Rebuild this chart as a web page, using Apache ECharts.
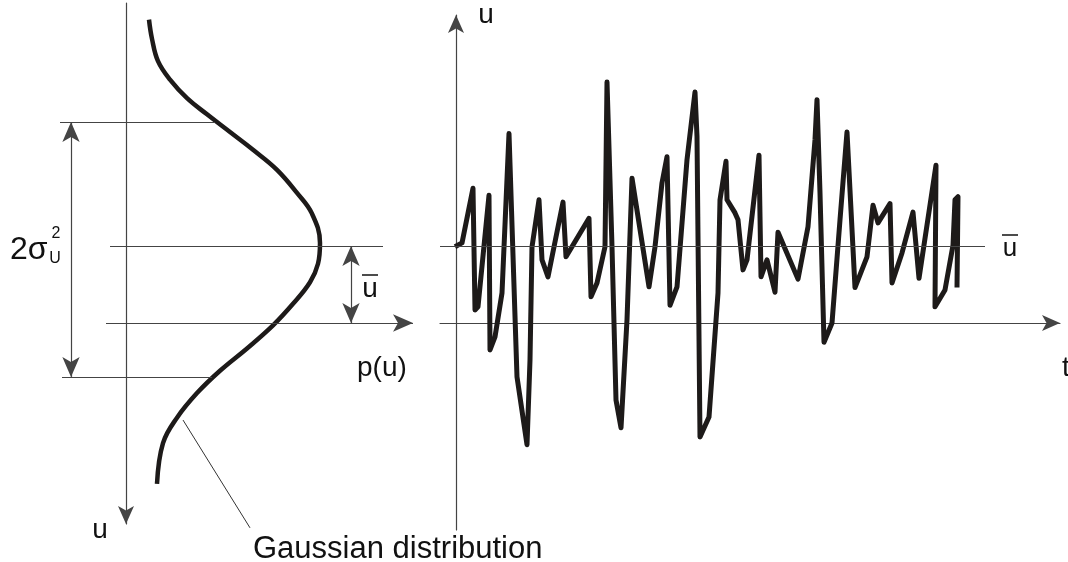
<!DOCTYPE html>
<html>
<head>
<meta charset="utf-8">
<script src="https://cdn.jsdelivr.net/npm/echarts@6/dist/echarts.min.js"></script>
<style>
html, body { margin: 0; padding: 0; background: #fff; }
#chart { width: 1068px; height: 562px; }
</style>
</head>
<body>
<div id="chart"></div>
<script>
// values, u in units of the mean (u = 0 on the p / t axis)
// left panel: the gaussian p(u)
var gaussU = [3.94, 3.69, 3.40, 3.16, 2.92, 2.71, 2.48, 2.25, 1.99, 1.69, 1.42, 1.04, 0.77, 0.53, 0.25, -0.03, -0.33, -0.62, -0.91, -1.23, -1.56, -2.09];
var gaussP = [0.115, 0.13, 0.16, 0.22, 0.305, 0.405, 0.52, 0.635, 0.755, 0.855, 0.93, 0.97, 0.96, 0.92, 0.835, 0.735, 0.605, 0.47, 0.355, 0.255, 0.185, 0.155];

// right panel: the signal u(t)
var sigT = [-0.1, 0.6, 1.7, 1.9, 2.2, 3.3, 3.4, 3.9, 4.6, 5.3, 6.1, 7.1, 7.4, 7.6, 8.3, 8.6, 9.2, 10.7, 11.0, 13.3,
    13.5, 14.1, 14.9, 15.1, 15.6, 16.0, 16.5, 17.1, 17.6, 19.3, 19.9, 20.6, 21.1, 21.4, 22.1, 23.1, 23.9, 24.1, 24.4, 25.3,
    26.2, 26.4, 27.0, 27.1, 27.9, 28.2, 28.7, 29.1, 30.3, 30.5, 31.1, 31.9, 32.2, 34.2, 35.2, 35.9, 36.1, 36.4, 36.8,
    37.6, 38.4, 39.1, 39.9, 41.1, 41.7, 42.2, 43.4, 43.6, 44.6, 45.7, 46.3, 48.0, 47.9, 48.9, 49.7, 49.9, 50.2, 50.1];
var sigU = [0.99, 1.04, 1.75, 0.17, 0.21, 1.66, -0.35, -0.18, 0.39, 2.46, -0.70, -1.58, -0.48, 0.99, 1.60, 0.82, 0.60, 1.57, 0.86, 1.36,
    0.34, 0.52, 0.99, 3.13, 0.99, -1.00, -1.36, 0.04, 1.88, 0.47, 0.99, 1.82, 2.16, 0.23, 0.47, 2.12, 3.00, 2.42, -1.48, -1.22,
    0.39, 1.60, 2.10, 1.60, 1.43, 1.34, 0.69, 0.82, 2.18, 0.60, 0.82, 0.40, 1.18, 0.57, 1.25, 2.38, 2.90, 1.69, -0.25,
    0.00, 1.34, 2.48, 0.46, 0.86, 1.53, 1.30, 1.55, 0.52, 0.91, 1.44, 0.58, 2.05, 0.21, 0.43, 1.01, 1.60, 1.64, 0.46];

// levels marked on the picture
var uMean = 1.0;
var sigmaHi = 2.61;
var sigmaLo = -0.70;

var thin = '#444';
var ink = '#1d1a19';
var font = '"Liberation Sans", Arial, sans-serif';

function pairs(a, b) {
    var out = [];
    for (var i = 0; i < a.length; i++) out.push([a[i], b[i]]);
    return out;
}

// one markLine segment, with or without arrow heads at its ends
function seg(x1, y1, x2, y2, s1, s2) {
    return [
        { coord: [x1, y1], symbol: s1 || 'none' },
        { coord: [x2, y2], symbol: s2 || 'none' }
    ];
}

var axisLine = function (sym, show) {
    return {
        show: show,
        onZero: true,
        symbol: sym,
        symbolSize: [12, 18],
        lineStyle: { color: thin, width: 1.2 }
    };
};
var bare = {
    axisTick: { show: false },
    axisLabel: { show: false },
    splitLine: { show: false }
};

var chartDom = document.getElementById('chart');
var myChart = echarts.init(chartDom);

var option = {
    animation: false,
    grid: [
        { left: 50, right: 654, top: 3, bottom: 38 },
        { left: 440, right: 8, top: 15, bottom: 32 }
    ],
    xAxis: [
        Object.assign({ type: 'value', gridIndex: 0, min: -0.38, max: 1.44, axisLine: axisLine('none', false) }, bare),
        Object.assign({ type: 'value', gridIndex: 1, min: -1.6, max: 60.4, axisLine: axisLine(['none', 'arrow'], true) }, bare)
    ],
    yAxis: [
        Object.assign({ type: 'value', gridIndex: 0, min: -2.61, max: 4.156, axisLine: axisLine(['arrow', 'none'], true) }, bare),
        Object.assign({ type: 'value', gridIndex: 1, min: -2.688, max: 4.0, axisLine: axisLine(['none', 'arrow'], true) }, bare)
    ],
    series: [
        {
            name: 'Gaussian distribution',
            type: 'line',
            xAxisIndex: 0,
            yAxisIndex: 0,
            data: pairs(gaussP, gaussU),
            smooth: 0.4,
            showSymbol: false,
            clip: false,
            lineStyle: { color: ink, width: 4.5, cap: 'butt' },
            markLine: {
                silent: true,
                symbolSize: [13, 20],
                label: { show: false },
                lineStyle: { color: thin, width: 1.2, type: 'solid' },
                data: [
                    seg(-0.1, 0, 1.435, 0, 'none', 'arrow'),          // p(u) axis
                    seg(-0.08, uMean, 1.285, uMean),                   // mean
                    seg(-0.33, sigmaHi, 0.445, sigmaHi),               // upper sigma
                    seg(-0.32, sigmaLo, 0.43, sigmaLo),                // lower sigma
                    seg(-0.275, sigmaHi, -0.275, sigmaLo, 'arrow', 'arrow'),
                    seg(1.125, uMean, 1.125, 0, 'arrow', 'arrow')
                ]
            }
        },
        {
            // pointer from the curve to its caption
            type: 'line',
            xAxisIndex: 0,
            yAxisIndex: 0,
            data: [[0.285, -1.26], [0.62, -2.66]],
            silent: true,
            clip: false,
            showSymbol: false,
            lineStyle: { color: '#333', width: 1 }
        },
        {
            name: 'u(t)',
            type: 'line',
            xAxisIndex: 1,
            yAxisIndex: 1,
            data: pairs(sigT, sigU),
            showSymbol: false,
            clip: false,
            lineStyle: { color: ink, width: 5, join: 'round', cap: 'butt' },
            markLine: {
                silent: true,
                symbol: 'none',
                label: { show: false },
                lineStyle: { color: thin, width: 1.2, type: 'solid' },
                data: [seg(-1.6, uMean, 52.9, uMean)]
            }
        }
    ],
    graphic: [
        { type: 'text', x: 100, y: 530, style: { text: 'u', font: '28px ' + font, fill: '#111', align: 'center', verticalAlign: 'middle' } },
        { type: 'text', x: 357, y: 368, style: { text: 'p(u)', font: '28px ' + font, fill: '#111', align: 'left', verticalAlign: 'middle' } },
        { type: 'text', x: 10, y: 250, style: { text: '2σ', font: '32px ' + font, fill: '#111', align: 'left', verticalAlign: 'middle' } },
        { type: 'text', x: 56, y: 234, style: { text: '2', font: '16px ' + font, fill: '#111', align: 'center', verticalAlign: 'middle' } },
        { type: 'text', x: 55, y: 259, style: { text: 'U', font: '16px ' + font, fill: '#111', align: 'center', verticalAlign: 'middle' } },
        { type: 'text', x: 370, y: 289, style: { text: 'u', font: '28px ' + font, fill: '#111', align: 'center', verticalAlign: 'middle' } },
        { type: 'line', shape: { x1: 362, y1: 275, x2: 378, y2: 275 }, style: { stroke: '#111', lineWidth: 1.5 } },
        { type: 'text', x: 486, y: 15, style: { text: 'u', font: '28px ' + font, fill: '#111', align: 'center', verticalAlign: 'middle' } },
        { type: 'text', x: 1010, y: 249, style: { text: 'u', font: '26px ' + font, fill: '#111', align: 'center', verticalAlign: 'middle' } },
        { type: 'line', shape: { x1: 1002, y1: 235, x2: 1018, y2: 235 }, style: { stroke: '#111', lineWidth: 1.5 } },
        { type: 'text', x: 1062, y: 368, style: { text: 't', font: '28px ' + font, fill: '#111', align: 'left', verticalAlign: 'middle' } },
        { type: 'text', x: 253, y: 549, style: { text: 'Gaussian distribution', font: '31px ' + font, fill: '#111', align: 'left', verticalAlign: 'middle' } }
    ]
};

option && myChart.setOption(option);
</script>
</body>
</html>
